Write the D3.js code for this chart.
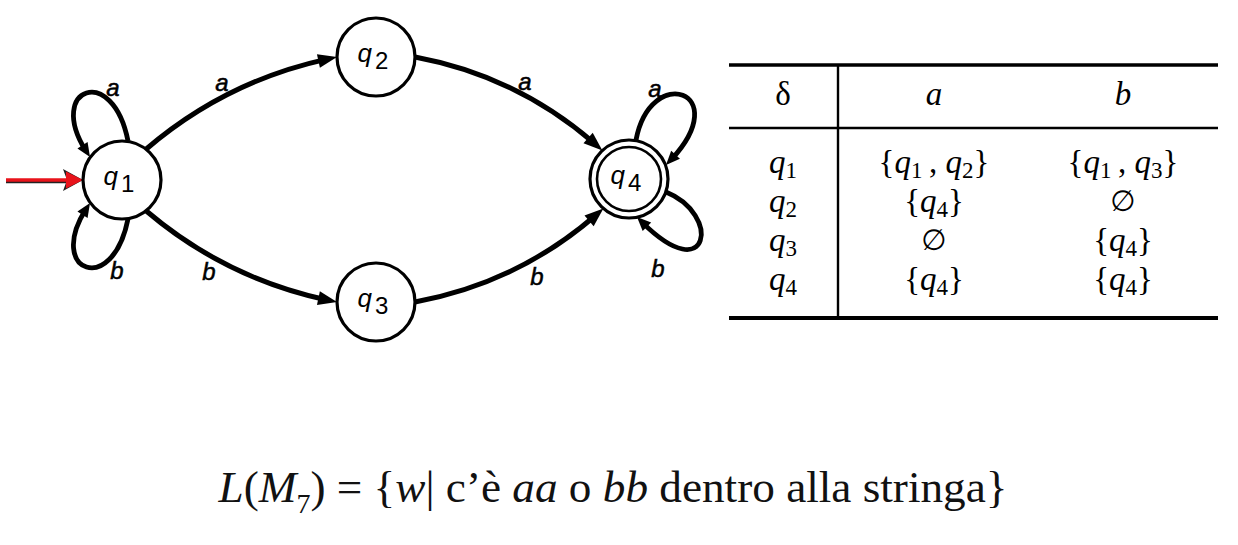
<!DOCTYPE html>
<html>
<head>
<meta charset="utf-8">
<script src="https://cdn.jsdelivr.net/npm/d3@7"></script>
<style>
  body { margin: 0; background: #fff; }
  svg { display: block; }
</style>
</head>
<body>
<svg id="chart"></svg>
<script>
// automaton M7 (NFA) data
const states = ["q1", "q2", "q3", "q4"];
const startState = "q1";
const acceptStates = ["q4"];
const alphabet = ["a", "b"];
const transitions = [
  { from: "q1", to: "q1", symbol: "a" },
  { from: "q1", to: "q1", symbol: "b" },
  { from: "q1", to: "q2", symbol: "a" },
  { from: "q1", to: "q3", symbol: "b" },
  { from: "q2", to: "q4", symbol: "a" },
  { from: "q3", to: "q4", symbol: "b" },
  { from: "q4", to: "q4", symbol: "a" },
  { from: "q4", to: "q4", symbol: "b" }
];
const tableCorner = "δ";
const emptySet = "∅";
const caption = [
  { t: "L", it: true }, { t: "(" }, { t: "M", it: true }, { t: "7", sub: true },
  { t: ") = {" }, { t: "w", it: true }, { t: "| c’è " }, { t: "aa", it: true },
  { t: " o " }, { t: "bb", it: true }, { t: " dentro alla stringa}" }
];

// layout (positions only)
const nodePos = { q1: [122, 180], q2: [376, 57], q3: [376, 302], q4: [629, 179] };
const R = 39;
const edgeLayout = {
  "q1-q1-a": { loop: [[6, -39], [-10, -120], [-80, -90], [-32, -23]], label: [113, 88] },
  "q1-q1-b": { loop: [[6, 39], [-10, 120], [-80, 90], [-32, 23]], label: [117, 271] },
  "q1-q2-a": { a0: -52, a1: 180, bend: 14, label: [222, 83] },
  "q1-q3-b": { a0: 52, a1: 180, bend: -14, label: [209, 272] },
  "q2-q4-a": { a0: 0, a1: -133, bend: 15, label: [525, 82] },
  "q3-q4-b": { a0: 0, a1: 131, bend: -15, label: [537, 277] },
  "q4-q4-a": { loop: [[7, -39], [22, -118], [110, -86], [37, -14]], label: [655, 89] },
  "q4-q4-b": { loop: [[37, 13], [94, 36], [80, 114], [8, 38]], label: [658, 269] }
};

const width = 1238, height = 545;
const svg = d3.select("#chart")
  .attr("width", width)
  .attr("height", height)
  .attr("viewBox", [0, 0, width, height]);

const rad = (d) => (d * Math.PI) / 180;

function arrowPath(g, d, headLen, headHalf, color, sw) {
  const path = g.append("path")
    .attr("d", d)
    .attr("fill", "none")
    .attr("stroke", color)
    .attr("stroke-width", sw);
  const len = path.node().getTotalLength();
  path.attr("stroke-dasharray", `${len - headLen * 0.6} ${len}`);
  const tip = path.node().getPointAtLength(len);
  const base = path.node().getPointAtLength(len - headLen);
  const ux = (tip.x - base.x) / headLen, uy = (tip.y - base.y) / headLen;
  const bx = tip.x - ux * headLen, by = tip.y - uy * headLen;
  g.append("path")
    .attr("d", `M${tip.x},${tip.y}L${bx - uy * headHalf},${by + ux * headHalf}L${bx + uy * headHalf},${by - ux * headHalf}Z`)
    .attr("fill", color);
}

// edges
const gEdges = svg.append("g");
transitions.forEach((t) => {
  const lay = edgeLayout[`${t.from}-${t.to}-${t.symbol}`];
  const [cx, cy] = nodePos[t.from];
  const p = d3.path();
  if (t.from === t.to) {
    const [p0, c1, c2, p3] = lay.loop;
    p.moveTo(cx + p0[0], cy + p0[1]);
    p.bezierCurveTo(cx + c1[0], cy + c1[1], cx + c2[0], cy + c2[1], cx + p3[0], cy + p3[1]);
    arrowPath(gEdges, p.toString(), 14, 6, "#000", 4.8);
  } else {
    const [tx, ty] = nodePos[t.to];
    const x0 = cx + R * Math.cos(rad(lay.a0)), y0 = cy + R * Math.sin(rad(lay.a0));
    const x2 = tx + R * Math.cos(rad(lay.a1)), y2 = ty + R * Math.sin(rad(lay.a1));
    const dx = x2 - x0, dy = y2 - y0, L = Math.hypot(dx, dy);
    const mx = (x0 + x2) / 2 + (dy / L) * lay.bend * 2;
    const my = (y0 + y2) / 2 - (dx / L) * lay.bend * 2;
    p.moveTo(x0, y0);
    p.quadraticCurveTo(mx, my, x2, y2);
    arrowPath(gEdges, p.toString(), 19, 7, "#000", 5);
  }
  gEdges.append("text")
    .attr("x", lay.label[0])
    .attr("y", lay.label[1])
    .attr("dy", "0.32em")
    .attr("text-anchor", "middle")
    .attr("font-family", "Liberation Sans, Arial, sans-serif")
    .attr("font-style", "italic")
    .attr("font-size", 24)
    .attr("stroke", "#000")
    .attr("stroke-width", 0.5)
    .text(t.symbol);
});

// start arrow (red with dark shadow)
const gStart = svg.append("g");
const [sx, sy] = nodePos[startState];
const tipX = sx - R;
gStart.append("line")
  .attr("x1", 6).attr("x2", tipX - 14).attr("y1", sy + 1.5).attr("y2", sy + 1.5)
  .attr("stroke", "#222").attr("stroke-width", 3.5);
gStart.append("path")
  .attr("d", `M${tipX},${sy}L${tipX - 20},${sy - 11}L${tipX - 16},${sy}L${tipX - 20},${sy + 11}Z`)
  .attr("fill", "#222");
gStart.append("line")
  .attr("x1", 6).attr("x2", tipX - 12).attr("y1", sy).attr("y2", sy)
  .attr("stroke", "#e8131b").attr("stroke-width", 3.5);
gStart.append("path")
  .attr("d", `M${tipX},${sy}L${tipX - 17},${sy - 8.5}L${tipX - 17},${sy + 8.5}Z`)
  .attr("fill", "#e8131b");

// nodes
const gNodes = svg.append("g")
  .selectAll("g")
  .data(states)
  .join("g")
  .attr("transform", (d) => `translate(${nodePos[d][0]},${nodePos[d][1]})`);

gNodes.append("circle")
  .attr("r", R)
  .attr("fill", "#fff")
  .attr("stroke", "#000")
  .attr("stroke-width", 3.2);

gNodes.filter((d) => acceptStates.includes(d))
  .append("circle")
  .attr("r", R - 7)
  .attr("fill", "none")
  .attr("stroke", "#000")
  .attr("stroke-width", 2.6);

const nodeText = gNodes.append("text")
  .attr("x", -3)
  .attr("y", 5)
  .attr("text-anchor", "middle")
  .attr("font-family", "Liberation Sans, Arial, sans-serif")
  .attr("font-size", 26);
nodeText.append("tspan").attr("font-style", "italic").text((d) => d[0]);
nodeText.append("tspan").attr("dx", 3).attr("dy", 7).attr("font-size", 24).text((d) => d.slice(1));

// transition table
const tableLeft = 729, tableRight = 1218;
const yTop = 65, yHead = 128, yBottom = 318, xDiv = 838;
const header = [tableCorner, ...alphabet];
const colX = d3.scaleOrdinal().domain(header).range([783, 934, 1123]);
const rowY = d3.scalePoint().domain(states).range([173, 290]);

const delta = (q, s) => transitions.filter((t) => t.from === q && t.symbol === s).map((t) => t.to);

const gTable = svg.append("g")
  .attr("font-family", "Liberation Serif, Times New Roman, serif")
  .attr("font-size", 33);

gTable.append("line").attr("x1", tableLeft).attr("x2", tableRight).attr("y1", yTop).attr("y2", yTop)
  .attr("stroke", "#000").attr("stroke-width", 3.5);
gTable.append("line").attr("x1", tableLeft).attr("x2", tableRight).attr("y1", yHead).attr("y2", yHead)
  .attr("stroke", "#000").attr("stroke-width", 2.4);
gTable.append("line").attr("x1", tableLeft).attr("x2", tableRight).attr("y1", yBottom).attr("y2", yBottom)
  .attr("stroke", "#000").attr("stroke-width", 4);
gTable.append("line").attr("x1", xDiv).attr("x2", xDiv).attr("y1", yTop).attr("y2", yBottom)
  .attr("stroke", "#000").attr("stroke-width", 2.4);

function writeSegments(text, segs, subSize, subShift) {
  let cur = 0;
  segs.forEach((s) => {
    const shift = s.sub ? subShift : 0;
    const ts = text.append("tspan").text(s.t);
    if (shift !== cur) ts.attr("dy", shift - cur);
    cur = shift;
    if (s.it) ts.attr("font-style", "italic");
    if (s.sub) ts.attr("font-size", subSize);
  });
}
const stateSegs = (q) => [{ t: q[0], it: true }, { t: q.slice(1), sub: true }];

header.forEach((h) => {
  gTable.append("text")
    .attr("x", colX(h))
    .attr("y", 105)
    .attr("text-anchor", "middle")
    .attr("font-style", h === tableCorner ? "normal" : "italic")
    .text(h);
});

states.forEach((q) => {
  const rt = gTable.append("text")
    .attr("x", colX(tableCorner))
    .attr("y", rowY(q))
    .attr("text-anchor", "middle");
  writeSegments(rt, stateSegs(q), 23, 5);
  alphabet.forEach((s) => {
    const set = delta(q, s);
    const ct = gTable.append("text")
      .attr("x", colX(s))
      .attr("y", rowY(q))
      .attr("text-anchor", "middle");
    if (set.length === 0) {
      ct.attr("font-family", "DejaVu Sans, sans-serif").attr("font-size", 29).attr("dy", -1).text(emptySet);
    } else {
      let segs = [{ t: "{" }];
      set.forEach((st, i) => {
        if (i > 0) segs.push({ t: "\u2009, " });
        segs = segs.concat(stateSegs(st));
      });
      segs.push({ t: "}" });
      writeSegments(ct, segs, 23, 5);
    }
  });
});

// caption
const cap = svg.append("text")
  .attr("x", 613)
  .attr("y", 502)
  .attr("text-anchor", "middle")
  .attr("font-family", "Liberation Serif, Times New Roman, serif")
  .attr("font-size", 40)
  .attr("fill", "#111");
writeSegments(cap, caption, 26, 11);
const capW = cap.node().getComputedTextLength();
const capSize = 40 * 790 / capW;
cap.attr("font-size", capSize);
cap.selectAll("tspan").filter((d, i) => caption[i].sub).attr("font-size", capSize * 0.62);
</script>
</body>
</html>
